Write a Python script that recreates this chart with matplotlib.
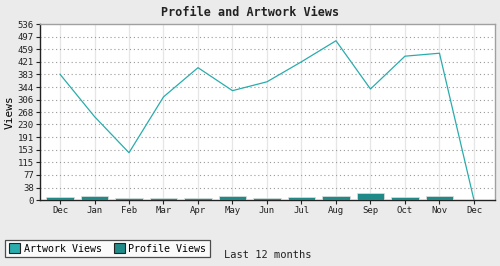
import matplotlib
matplotlib.use("Agg")
import matplotlib.pyplot as plt
from matplotlib.patches import Patch
import numpy as np

months = ["Dec", "Jan", "Feb", "Mar", "Apr", "May", "Jun", "Jul", "Aug", "Sep", "Oct", "Nov", "Dec"]
artwork_views = [383, 254, 144, 314, 403, 333, 360, 421, 485, 338, 438, 447, 0]
profile_views = [10, 13, 5, 7, 5, 11, 7, 10, 13, 22, 10, 13, 0]
yticks = [0, 38, 77, 115, 153, 191, 230, 268, 306, 344, 383, 421, 459, 497, 536]

line_color = "#2aacac"
bar_color = "#1f8a87"
font = "DejaVu Sans Mono"

fig = plt.figure(figsize=(5.0, 2.66), dpi=100, facecolor="#ebebeb")
ax = fig.add_axes([40/500, 1 - 200/266, 455/500, 176/266])
ax.set_facecolor("white")

x = np.arange(len(months))
ax.bar(x, profile_views, width=0.8, color=bar_color, edgecolor="#e0e0e0", linewidth=0.5, zorder=3)
ax.plot(x, artwork_views, color=line_color, linewidth=0.9, zorder=4)

ax.set_xlim(-0.58, 12.61)
ax.set_ylim(0, 536)
ax.set_xticks(x)
ax.set_xticklabels(months, fontsize=6.5, family=font)
ax.set_yticks(yticks)
ax.set_yticklabels([str(v) for v in yticks], fontsize=6.5, family=font)
ax.tick_params(axis="both", length=3, width=0.8, pad=1.5, colors="#222222")

for v in yticks[1:-1]:
    ax.axhline(v, color="#999999", linestyle=(0, (1, 2.5)), linewidth=0.8, zorder=1)
for xi in x:
    ax.axvline(xi, color="#e6e6e6", linewidth=0.9, zorder=0)

ax.spines["left"].set_color("#222222")
ax.spines["bottom"].set_color("#222222")
ax.spines["left"].set_linewidth(1.0)
ax.spines["bottom"].set_linewidth(1.0)
ax.spines["top"].set_color("#a0a0a0")
ax.spines["right"].set_color("#a0a0a0")
ax.spines["top"].set_linewidth(1.0)
ax.spines["right"].set_linewidth(1.0)

ax.set_ylabel("Views", fontsize=8, family=font, labelpad=2)

fig.text(0.5, 1 - 12/266, "Profile and Artwork Views", ha="center", va="center",
         fontsize=8.5, fontweight="bold", family=font, color="#222222")

handles = [Patch(facecolor=line_color, edgecolor="#222222", linewidth=0.8, label="Artwork Views"),
           Patch(facecolor=bar_color, edgecolor="#222222", linewidth=0.8, label="Profile Views")]
leg = fig.legend(handles=handles, loc="lower left", bbox_to_anchor=(5/500, 1 - 257/266),
                 ncol=2, frameon=True, fancybox=False, prop={"family": font, "size": 7.2},
                 handlelength=1.1, handleheight=1.1, handletextpad=0.4, columnspacing=1.2,
                 borderpad=0.35, borderaxespad=0)
leg.get_frame().set_edgecolor("#222222")
leg.get_frame().set_linewidth(0.9)
leg.get_frame().set_facecolor("white")

fig.text(224/500, 1 - 255/266, "Last 12 months", ha="left", va="center",
         fontsize=7.5, family=font, color="#222222")

fig.savefig("out.png", dpi=100, facecolor=fig.get_facecolor())
